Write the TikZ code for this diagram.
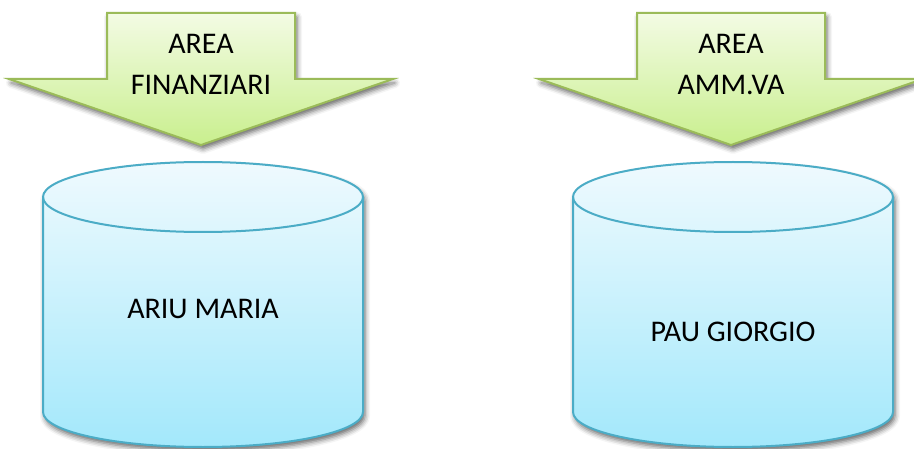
\documentclass[tikz,border=0pt]{standalone}
\usepackage{fontspec}
\setmainfont{Carlito}
\usetikzlibrary{shadows.blur}
\definecolor{arrowline}{HTML}{9BBB59}
\definecolor{arrowtop}{HTML}{F3FBE4}
\definecolor{arrowbottom}{HTML}{C9EF8E}
\definecolor{drumline}{HTML}{4BACC6}
\definecolor{drumtop}{HTML}{EFFAFE}
\definecolor{drumbottom}{HTML}{A3E8FB}
\begin{document}
\begin{tikzpicture}
    [
        x=1pt,y=1pt,
        arrowbody/.style={draw=arrowline,line width=2pt,line join=miter,
            top color=arrowtop,bottom color=arrowbottom,
            blur shadow={shadow xshift=2pt,shadow yshift=-4pt,shadow blur radius=5pt,shadow opacity=60}},
        drumbody/.style={draw=drumline,line width=2pt,
            top color=drumtop,bottom color=drumbottom,
            blur shadow={shadow xshift=2pt,shadow yshift=-4pt,shadow blur radius=5pt,shadow opacity=60}},
        areatext/.style={inner sep=0pt,align=center,font=\fontsize{30}{41}\selectfont},
        nametext/.style={inner sep=0pt,font=\fontsize{30}{36}\selectfont},
    ]
    \useasboundingbox (0,0) rectangle (914,448);
    % The arrows
    \foreach \ax in {201,731}
    \path[arrowbody] (\ax-94,435) -- (\ax+94,435) -- (\ax+94,369) -- (\ax+192,369)
        -- (\ax,303) -- (\ax-192,369) -- (\ax-94,369) -- cycle;
    % The cylinders
    \foreach \cx in {203,733}{
        \path[drumbody] (\cx-160,251) -- (\cx-160,36)
            arc[start angle=180,end angle=360,x radius=160,y radius=35]
            -- (\cx+160,251)
            arc[start angle=0,end angle=180,x radius=160,y radius=35] -- cycle;
        \draw[drumline,line width=2pt] (\cx-160,251)
            arc[start angle=180,end angle=360,x radius=160,y radius=35];
    }
    % The texts
    \node[areatext] (finanz) at (201,383.5) {AREA\\FINANZIARI};
    \node[areatext] (ammva) at (731,383.5) {AREA\\AMM.VA};
    \node[nametext] (ariu) at (203,139.5) {ARIU MARIA};
    \node[nametext] (pau) at (733,116) {PAU GIORGIO};
\end{tikzpicture}
\end{document}
